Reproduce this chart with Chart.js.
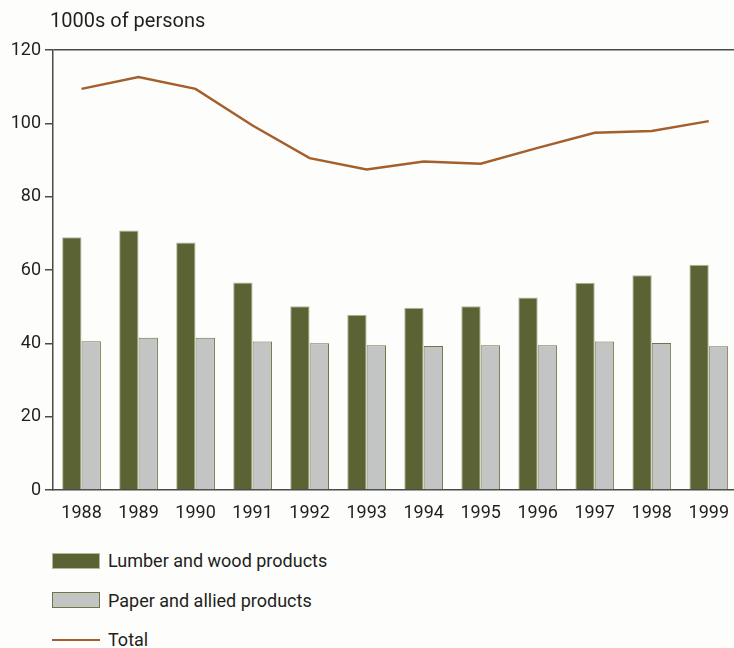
<!DOCTYPE html>
<html>
<head>
<meta charset="utf-8">
<script src="https://cdn.jsdelivr.net/npm/chart.js@4.4.0/dist/chart.umd.min.js"></script>
<style>
  html, body { margin: 0; padding: 0; background: #fdfdfb; overflow: hidden; }
  #wrap { position: relative; width: 734px; height: 648px; overflow: hidden; font-family: Roboto, sans-serif; color: #231f20; }
  #unit { position: absolute; left: 50px; top: 7px; font-size: 20px; line-height: 26px; }
  #box { position: absolute; left: 0; top: 0; width: 742px; height: 520px; }
  #legend { position: absolute; left: 52px; top: 541px; }
  .item { display: flex; align-items: center; height: 39.5px; font-size: 18px; }
  .swatch { width: 48px; margin-right: 8px; box-sizing: border-box; }
</style>
</head>
<body>
<div id="wrap">
  <div id="box"><canvas id="employment"></canvas></div>
  <div id="unit">1000s of persons</div>
  <div id="legend"></div>
</div>
<script>
// Données : emploi (milliers de personnes)
const years = ['1988', '1989', '1990', '1991', '1992', '1993', '1994', '1995', '1996', '1997', '1998', '1999'];
const lumber = [68.9, 70.8, 67.5, 56.6, 50.1, 47.8, 49.7, 50.1, 52.5, 56.5, 58.6, 61.4];
const paper = [40.6, 41.5, 41.5, 40.5, 40.0, 39.5, 39.3, 39.5, 39.5, 40.5, 40.1, 39.2];
const total = [109.4, 112.6, 109.4, 99.4, 90.5, 87.4, 89.6, 89.0, 93.3, 97.4, 97.9, 100.6];
const yTicks = [0, 20, 40, 60, 80, 100, 120];

const axisColor = '#4a4a4a';
const tickFont = { family: 'Roboto, sans-serif', size: 18 };

const ctx = document.getElementById('employment').getContext('2d');
const chart = new Chart(ctx, {
    data: {
        labels: years,
        datasets: [
            {
                type: 'line',
                label: 'Total',
                data: total,
                borderColor: '#a45f2d',
                borderWidth: 2.5,
                pointRadius: 0,
                tension: 0,
                order: 0
            },
            {
                type: 'bar',
                label: 'Lumber and wood products',
                data: lumber,
                backgroundColor: '#5b6334',
                borderColor: '#b4b99a',
                borderWidth: 1,
                barPercentage: 1,
                categoryPercentage: 0.68,
                order: 1
            },
            {
                type: 'bar',
                label: 'Paper and allied products',
                data: paper,
                backgroundColor: '#c3c5c4',
                borderColor: '#6e7645',
                borderWidth: 1,
                barPercentage: 1,
                categoryPercentage: 0.68,
                order: 1
            }
        ]
    },
    options: {
        responsive: true,
        maintainAspectRatio: false,
        animation: false,
        layout: { padding: { top: 50, right: 0, bottom: 0, left: 0 } },
        scales: {
            x: {
                offset: true,
                grid: { display: false, drawTicks: false },
                border: { color: axisColor, width: 1.5 },
                ticks: { font: tickFont, color: '#231f20', padding: 13, maxRotation: 0 },
                afterFit: (scale) => { scale.height = 30; }
            },
            y: {
                min: 0,
                max: 120,
                afterBuildTicks: (scale) => { scale.ticks = yTicks.map(v => ({ value: v })); },
                grid: {
                    drawOnChartArea: true,
                    // ligne du haut seulement, à 120
                    color: (c) => (c.tick && c.tick.value === 120 ? axisColor : 'transparent'),
                    lineWidth: 1.5,
                    tickLength: 8,
                    tickColor: axisColor,
                    tickWidth: 1.5
                },
                border: { color: axisColor, width: 1.5 },
                ticks: { font: tickFont, color: '#231f20', padding: 4 },
                afterFit: (scale) => { scale.width = 53; }
            }
        },
        plugins: {
            legend: { display: false },
            tooltip: { enabled: false }
        }
    }
});

// Légende verticale en HTML, construite à partir des jeux de données
const legendOrder = [1, 2, 0];
const legendEl = document.getElementById('legend');
legendOrder.forEach(i => {
    const ds = chart.data.datasets[i];
    const row = document.createElement('div');
    row.className = 'item';
    const sw = document.createElement('span');
    sw.className = 'swatch';
    if (ds.type === 'line') {
        sw.style.height = '0';
        sw.style.borderTop = '2.5px solid ' + ds.borderColor;
    } else {
        sw.style.height = '16px';
        sw.style.background = ds.backgroundColor;
        sw.style.border = '1px solid ' + ds.borderColor;
    }
    const txt = document.createElement('span');
    txt.textContent = ds.label;
    row.appendChild(sw);
    row.appendChild(txt);
    legendEl.appendChild(row);
});
</script>
</body>
</html>
